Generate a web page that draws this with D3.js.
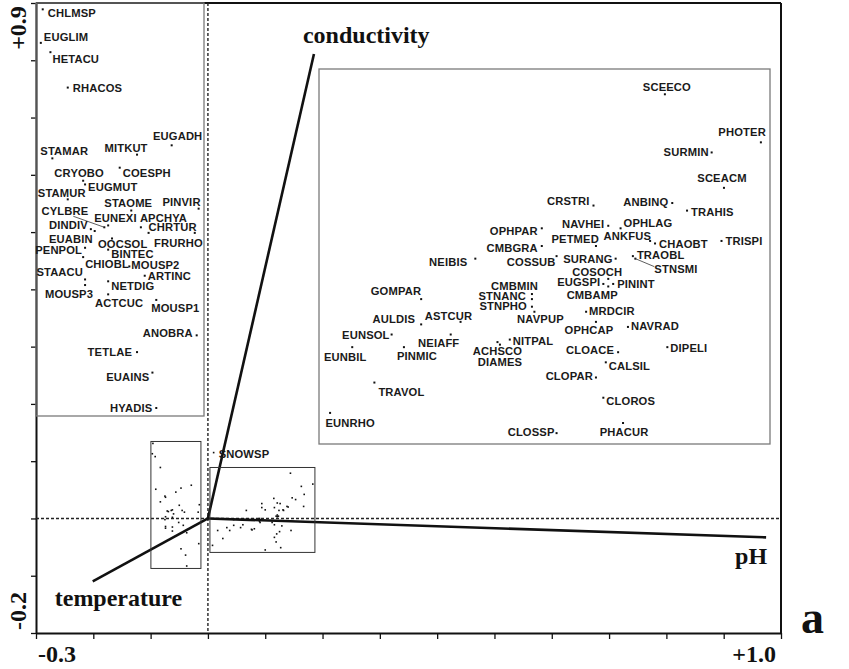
<!DOCTYPE html>
<html>
<head>
<meta charset="utf-8">
<script src="https://cdn.jsdelivr.net/npm/d3@7"></script>
<style>
    body { margin: 0; background: #fff; }
    svg { display: block; }
    .sp { font-family: "Liberation Sans", Arial, sans-serif; font-weight: bold; font-size: 11.2px; letter-spacing: 0.15px; fill: #1a1a1a; }
    .big { font-family: "Liberation Serif", "Times New Roman", serif; font-weight: bold; fill: #111; }
</style>
</head>
<body>
<svg id="chart" width="849" height="669"></svg>
<script>
    //----- DATA ---------------------------------------//
    var species = [
        'CHLMSP', 'EUGLIM', 'HETACU', 'RHACOS', 'STAMAR', 'MITKUT', 'EUGADH', 'CRYOBO', 'COESPH', 'EUGMUT',
        'STAMUR', 'STAOME', 'PINVIR', 'CYLBRE', 'EUNEXI', 'APCHYA', 'DINDIV', 'EUABIN', 'CHRTUR', 'OOCSOL',
        'FRURHO', 'PENPOL', 'BINTEC', 'CHIOBL', 'MOUSP2', 'STAACU', 'MOUSP3', 'ARTINC', 'NETDIG', 'ACTCUC',
        'MOUSP1', 'ANOBRA', 'TETLAE', 'EUAINS', 'HYADIS',
        'SCEECO', 'PHOTER', 'SURMIN', 'SCEACM', 'CRSTRI', 'ANBINQ', 'TRAHIS', 'NAVHEI', 'OPHLAG', 'OPHPAR',
        'PETMED', 'ANKFUS', 'CHAOBT', 'TRISPI', 'CMBGRA', 'NEIBIS', 'COSSUB', 'SURANG', 'TRAOBL', 'STNSMI',
        'COSOCH', 'EUGSPI', 'PININT', 'CMBAMP', 'CMBMIN', 'STNANC', 'STNPHO', 'NAVPUP', 'GOMPAR', 'MRDCIR',
        'ASTCUR', 'AULDIS', 'OPHCAP', 'NAVRAD', 'EUNSOL', 'NEIAFF', 'NITPAL', 'EUNBIL', 'PINMIC', 'ACHSCO',
        'DIAMES', 'CLOACE', 'DIPELI', 'CALSIL', 'CLOPAR', 'TRAVOL', 'CLOROS', 'EUNRHO', 'CLOSSP', 'PHACUR',
        'SNOWSP'
    ];
    var axis1 = [
        -0.096, -0.097, -0.092, -0.083, -0.091, -0.047, -0.029, -0.075, -0.056, -0.074,
        -0.083, -0.050, -0.015, -0.064, -0.062, -0.045, -0.071, -0.069, -0.041, -0.060,
        -0.017, -0.074, -0.062, -0.075, -0.051, -0.074, -0.074, -0.043, -0.062, -0.062,
        -0.037, -0.016, -0.047, -0.039, -0.037,
        0.144, 0.183, 0.163, 0.168, 0.115, 0.147, 0.153, 0.121, 0.126, 0.094,
        0.116, 0.138, 0.140, 0.167, 0.094, 0.067, 0.100, 0.124, 0.131, 0.132,
        0.121, 0.119, 0.123, 0.121, 0.090, 0.090, 0.090, 0.091, 0.045, 0.112,
        0.061, 0.045, 0.116, 0.129, 0.033, 0.057, 0.081, 0.017, 0.038, 0.076,
        0.077, 0.125, 0.145, 0.120, 0.116, 0.026, 0.119, 0.008, 0.100, 0.127,
        0.010
    ];
    var axis2 = [
        0.131, 0.113, 0.108, 0.089, 0.051, 0.053, 0.058, 0.039, 0.046, 0.037,
        0.029, 0.023, 0.024, 0.014, 0.015, 0.014, 0.013, 0.012, 0.011, 0.008,
        0.011, 0.003, 0.002, -0.002, -0.007, -0.014, -0.017, -0.012, -0.015, -0.022,
        -0.025, -0.044, -0.053, -0.064, -0.083,
        0.079, 0.060, 0.056, 0.042, 0.035, 0.036, 0.033, 0.027, 0.026, 0.026,
        0.019, 0.021, 0.020, 0.021, 0.019, 0.014, 0.015, 0.014, 0.015, 0.014,
        0.006, 0.004, 0.004, 0.003, 0.000, -0.002, -0.005, -0.007, -0.002, -0.007,
        -0.011, -0.012, -0.011, -0.013, -0.016, -0.016, -0.018, -0.021, -0.021, -0.019,
        -0.020, -0.023, -0.021, -0.027, -0.033, -0.035, -0.041, -0.047, -0.055, -0.051,
        0.115
    ];

    var envNames = ['conductivity', 'pH', 'temperature'];
    var envAxis1 = [0.185, 0.974, -0.201];
    var envAxis2 = [0.811, -0.033, -0.110];

    var xTicks = d3.range(-3, 11).map(function (d) { return d / 10; });
    var yTicks = d3.range(-2, 10).map(function (d) { return d / 10; });
    var xEndLabels = ['-0.3', '+1.0'];
    var yEndLabels = ['-0.2', '+0.9'];

    //----- LAYOUT -------------------------------------//
    // zoom windows: box in score units, panel in pixels
    var INSETS = [
        { x0: -0.0995, x1: -0.0122, y0: -0.0873, y1: 0.1344, left: 36, right: 204, top: 3, bottom: 416 },
        { x0: 0.0035, x1: 0.1867, y0: -0.0593, y1: 0.0890, left: 319, right: 770, top: 69, bottom: 444 }
    ];

    // label placement: anchor, dx, dy (px from the point)
    var LABEL_POS = {
        CHLMSP: ['s', 5, 4], EUGLIM: ['s', 3, -6], HETACU: ['s', 2, 7], RHACOS: ['s', 5, 0],
        STAMAR: ['s', -12, -7], MITKUT: ['m', -11, -7], EUGADH: ['m', 6, -9], CRYOBO: ['m', -4, -8],
        COESPH: ['s', 3, 5], EUGMUT: ['s', 3, 3], STAMUR: ['m', -6, -6], STAOME: ['m', -3, -8],
        PINVIR: ['e', 2, -7], CYLBRE: ['e', -16, -16], EUNEXI: ['s', -14, -7], APCHYA: ['s', -1, -9],
        DINDIV: ['e', -3, -4], EUABIN: ['e', -2, 8], CHRTUR: ['s', 0, -6], OOCSOL: ['s', -14, 6],
        FRURHO: ['e', 8, 10], PENPOL: ['e', -3, 2], BINTEC: ['s', 3, 4], CHIOBL: ['s', 2, 7],
        MOUSP2: ['s', 2, -1], STAACU: ['e', -2, -7], MOUSP3: ['e', 8, 9], ARTINC: ['s', 3, 0],
        NETDIG: ['s', 3, 5], ACTCUC: ['m', 11, 9], MOUSP1: ['s', -5, 8], ANOBRA: ['e', -4, -2],
        TETLAE: ['e', -5, 0], EUAINS: ['e', -3, 4], HYADIS: ['e', -4, 0],
        SCEECO: ['m', 2, -7], PHOTER: ['e', 5, -10], SURMIN: ['e', -3, 0], SCEACM: ['m', -2, -10],
        CRSTRI: ['e', -4, -5], ANBINQ: ['e', -4, -1], TRAHIS: ['s', 4, 1], NAVHEI: ['e', -4, -2],
        OPHLAG: ['s', 3, -5], OPHPAR: ['e', -4, 3], PETMED: ['e', 3, -7], ANKFUS: ['e', 1, -5],
        CHAOBT: ['s', 4, 0], TRISPI: ['s', 4, 0], CMBGRA: ['e', -4, 2], NEIBIS: ['e', -8, 3],
        COSSUB: ['e', -1, 6], SURANG: ['e', -3, 0], TRAOBL: ['s', 4, -1], STNSMI: ['s', 19, 10],
        COSOCH: ['m', -11, -7], EUGSPI: ['e', -3, -2], PININT: ['s', 4, 0], CMBAMP: ['m', -16, 9],
        CMBMIN: ['e', 6, -8], STNANC: ['e', -6, -3], STNPHO: ['e', -5, -1], NAVPUP: ['m', 6, 7],
        GOMPAR: ['e', 0, -8], MRDCIR: ['s', 3, -1], ASTCUR: ['m', -12, -6], AULDIS: ['e', -6, -5],
        OPHCAP: ['m', -7, 8], NAVRAD: ['s', 3, -1], EUNSOL: ['e', -2, 0], NEIAFF: ['m', -12, 8],
        NITPAL: ['s', 3, 1], EUNBIL: ['m', -7, 10], PINMIC: ['m', 13, 9], ACHSCO: ['m', 0, 9],
        DIAMES: ['m', 0, 17], CLOACE: ['e', -4, -2], DIPELI: ['s', 3, 1], CALSIL: ['s', 3, 4],
        CLOPAR: ['e', -3, -2], TRAVOL: ['s', 4, 9], CLOROS: ['s', 3, 3], EUNRHO: ['m', 20, 10],
        CLOSSP: ['e', -2, -1], PHACUR: ['m', 1, 9], SNOWSP: ['s', 5, 1]
    };
    var LEADERS = { CYLBRE: [-31, -11], STNSMI: [19, 8] };
    var ENV_LABEL_POS = { conductivity: [-11, -11], pH: [-31, 27], temperature: [-38, 25] };
    var ANCHOR = { s: 'start', m: 'middle', e: 'end' };

    //----- SCALES -------------------------------------//
    var svg = d3.select('#chart');
    var x = d3.scaleLinear().domain([-0.3, 1.0]).range([36, 781]);
    var y = d3.scaleLinear().domain([-0.2, 0.9]).range([633, 3]);

    var points = species.map(function (name, i) {
        return { name: name, a1: axis1[i], a2: axis2[i] };
    });

    function inBox(p, b) {
        return p.a1 >= b.x0 && p.a1 <= b.x1 && p.a2 >= b.y0 && p.a2 <= b.y1;
    }

    //----- FRAME & AXES -------------------------------//
    svg.append('g')
        .attr('transform', 'translate(0,633)')
        .call(d3.axisBottom(x).tickValues(xTicks).tickSize(6).tickSizeOuter(0).tickFormat(''))
        .call(function (g) {
            g.select('.domain').attr('stroke', '#111').attr('stroke-width', 2);
            g.selectAll('.tick line').attr('stroke', '#111').attr('stroke-width', 1.3);
        });

    svg.append('g')
        .attr('transform', 'translate(36,0)')
        .call(d3.axisLeft(y).tickValues(yTicks).tickSize(5).tickSizeOuter(0).tickFormat(''))
        .call(function (g) {
            g.select('.domain').attr('stroke', '#111').attr('stroke-width', 2);
            g.selectAll('.tick line').attr('stroke', '#111').attr('stroke-width', 1.3);
        });

    svg.append('line')
        .attr('x1', x(-0.3)).attr('x2', x(1.0)).attr('y1', y(0.9)).attr('y2', y(0.9))
        .attr('stroke', '#111').attr('stroke-width', 2);
    svg.append('line')
        .attr('x1', x(1.0)).attr('x2', x(1.0)).attr('y1', y(0.9)).attr('y2', y(-0.2))
        .attr('stroke', '#111').attr('stroke-width', 2);

    // zero lines
    svg.append('line')
        .attr('x1', x(0)).attr('x2', x(0)).attr('y1', y(0.9)).attr('y2', y(-0.2))
        .attr('stroke', '#222').attr('stroke-width', 1.4).attr('stroke-dasharray', '3,2');
    svg.append('line')
        .attr('x1', x(-0.3)).attr('x2', x(1.0)).attr('y1', y(0)).attr('y2', y(0))
        .attr('stroke', '#222').attr('stroke-width', 1.4).attr('stroke-dasharray', '3,2');

    // end labels
    svg.append('text').attr('class', 'big').attr('font-size', 24)
        .attr('x', x(-0.3) + 2).attr('y', 662).text(xEndLabels[0]);
    svg.append('text').attr('class', 'big').attr('font-size', 24)
        .attr('x', x(1.0) - 5).attr('y', 662).attr('text-anchor', 'end').text(xEndLabels[1]);
    svg.append('text').attr('class', 'big').attr('font-size', 24).attr('text-anchor', 'middle')
        .attr('transform', 'translate(26,' + (y(-0.2) - 22) + ') rotate(-90)').text(yEndLabels[0]);
    svg.append('text').attr('class', 'big').attr('font-size', 24).attr('text-anchor', 'middle')
        .attr('transform', 'translate(26,' + (y(0.9) + 25) + ') rotate(-90)').text(yEndLabels[1]);
    svg.append('text').attr('class', 'big').attr('font-size', 46)
        .attr('x', 801).attr('y', 633).text('a');

    //----- ENVIRONMENTAL VECTORS ----------------------//
    envNames.forEach(function (name, i) {
        var tx = x(envAxis1[i]), ty = y(envAxis2[i]);
        svg.append('line')
            .attr('x1', x(0)).attr('y1', y(0)).attr('x2', tx).attr('y2', ty)
            .attr('stroke', '#111').attr('stroke-width', 2.6);
        var off = ENV_LABEL_POS[name];
        svg.append('text').attr('class', 'big').attr('font-size', 24)
            .attr('x', tx + off[0]).attr('y', ty + off[1]).text(name);
    });

    //----- ZOOM BOXES IN THE MAIN PLOT ----------------//
    INSETS.forEach(function (b) {
        svg.append('rect')
            .attr('x', x(b.x0)).attr('y', y(b.y1))
            .attr('width', x(b.x1) - x(b.x0)).attr('height', y(b.y0) - y(b.y1))
            .attr('fill', 'none').attr('stroke', '#333').attr('stroke-width', 1);
    });

    svg.append('g').selectAll('rect')
        .data(points).enter()
        .append('rect')
            .attr('x', function (d) { return x(d.a1) - 0.8; })
            .attr('y', function (d) { return y(d.a2) - 0.8; })
            .attr('width', 1.6).attr('height', 1.6)
            .attr('fill', '#111');

    // points outside every box get their label in the main plot
    var loose = points.filter(function (p) {
        return !INSETS.some(function (b) { return inBox(p, b); });
    });
    drawLabels(svg.append('g'), loose, x, y);

    //----- INSET PANELS -------------------------------//
    INSETS.forEach(function (b) {
        var sx = d3.scaleLinear().domain([b.x0, b.x1]).range([b.left, b.right]);
        var sy = d3.scaleLinear().domain([b.y0, b.y1]).range([b.bottom, b.top]);
        var g = svg.append('g');

        g.append('rect')
            .attr('x', b.left).attr('y', b.top)
            .attr('width', b.right - b.left).attr('height', b.bottom - b.top)
            .attr('fill', 'none').attr('stroke', '#7a7a7a').attr('stroke-width', 1.3);

        var members = points.filter(function (p) { return inBox(p, b); });

        g.selectAll('rect.pt')
            .data(members).enter()
            .append('rect')
                .attr('class', 'pt')
                .attr('x', function (d) { return sx(d.a1) - 1; })
                .attr('y', function (d) { return sy(d.a2) - 1; })
                .attr('width', 2).attr('height', 2)
                .attr('fill', '#111');

        drawLabels(g, members, sx, sy);
    });

    //----- LABEL HELPER -------------------------------//
    function drawLabels(g, data, sx, sy) {
        g.selectAll('line.leader')
            .data(data.filter(function (d) { return LEADERS[d.name]; })).enter()
            .append('line')
                .attr('class', 'leader')
                .attr('x1', function (d) { return sx(d.a1); })
                .attr('y1', function (d) { return sy(d.a2); })
                .attr('x2', function (d) { return sx(d.a1) + LEADERS[d.name][0]; })
                .attr('y2', function (d) { return sy(d.a2) + LEADERS[d.name][1]; })
                .attr('stroke', '#333').attr('stroke-width', 0.8);

        g.selectAll('text.sp')
            .data(data).enter()
            .append('text')
                .attr('class', 'sp')
                .attr('text-anchor', function (d) { return ANCHOR[LABEL_POS[d.name][0]]; })
                .attr('x', function (d) { return sx(d.a1) + LABEL_POS[d.name][1]; })
                .attr('y', function (d) { return sy(d.a2) + LABEL_POS[d.name][2]; })
                .attr('dy', '0.36em')
                .text(function (d) { return d.name; });
    }
</script>
</body>
</html>
